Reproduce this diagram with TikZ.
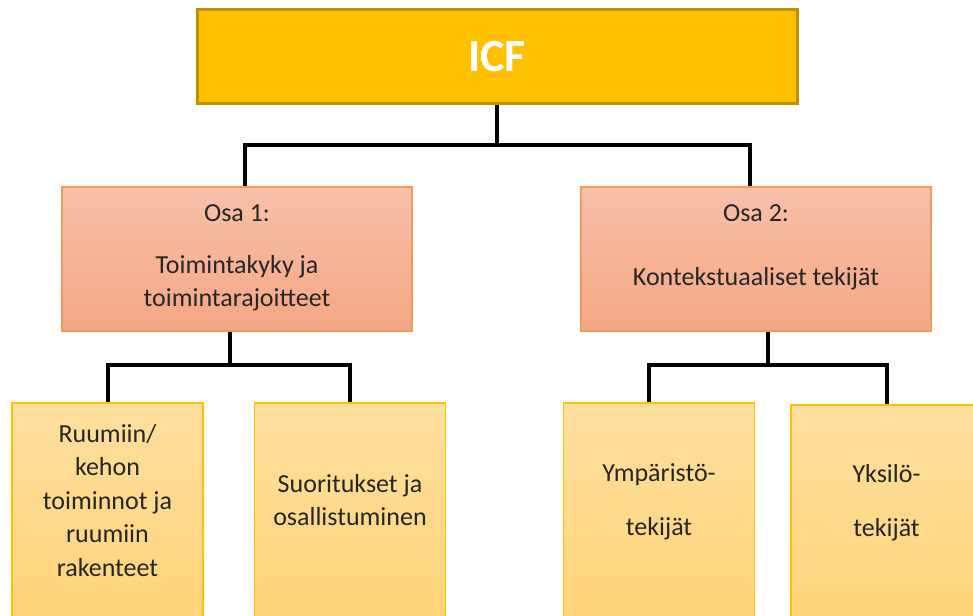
\documentclass[tikz,border=0pt]{standalone}
\usepackage{fontspec}
\setmainfont{Carlito}
\usepackage{tikz}
\newcommand{\padbelow}[1]{\rule[-#1]{0pt}{#1}}
\definecolor{icfgold}{HTML}{FFC000}
\definecolor{icfedge}{HTML}{BF9000}
\definecolor{parttop}{HTML}{F8C1A9}
\definecolor{partbottom}{HTML}{F4A684}
\definecolor{partedge}{HTML}{F29A5C}
\definecolor{leaftop}{HTML}{FFDF9F}
\definecolor{leafbottom}{HTML}{FFD479}
\definecolor{leafedge}{HTML}{FFC000}
\definecolor{textgray}{HTML}{262626}

\begin{document}
\begin{tikzpicture}[x=0.5pt,y=-0.5pt,
	head/.style={rectangle,draw=icfedge,line width=1.5pt,fill=icfgold,minimum width=300pt,minimum height=47pt,font=\fontsize{23}{27}\selectfont\bfseries,text=white},
	part/.style={rectangle,draw=partedge,line width=0.75pt,top color=parttop,bottom color=partbottom,minimum width=175pt,minimum height=72pt,align=center,font=\fontsize{13}{16.5}\selectfont,text=textgray},
	leaf/.style={rectangle,draw=leafedge,line width=0.75pt,top color=leaftop,bottom color=leafbottom,minimum width=95.5pt,minimum height=111pt,align=center,font=\fontsize{13}{16.75}\selectfont,text=textgray},
	link/.style={draw=black,line width=2pt}]
	\useasboundingbox (0,0) rectangle (973,615);

	\node[head] (icf) at (497,57) {ICF};
	\node[part] (osa1) at (237,259) {Osa 1:\\[9.5pt]Toimintakyky ja\\toimintarajoitteet\padbelow{3.5pt}};
	\node[part] (osa2) at (756,259) {Osa 2:\\[15.5pt]Kontekstuaaliset tekijät\padbelow{14pt}};
	\node[leaf] (ruumis) at (107.5,514) {Ruumiin/\\kehon\\toiminnot ja\\ruumiin\\rakenteet\padbelow{14pt}};
	\node[leaf] (suoritus) at (350,514) {Suoritukset ja\\osallistuminen\padbelow{14pt}};
	\node[leaf] (ymparisto) at (659,514) {Ympäristö-\\[10.25pt]tekijät\padbelow{14pt}};
	\node[leaf] (yksilo) at (886.5,516) {Yksilö-\\[10.25pt]tekijät\padbelow{16pt}};

	\draw[link] (icf.south) -- ++(0,39) coordinate (icfsplit);
	\draw[link] (icfsplit) -| ([xshift=4pt]osa1.north);
	\draw[link] (icfsplit) -| ([xshift=-3pt]osa2.north);

	\draw[link] ([xshift=-3.5pt]osa1.south) -- ++(0,33) coordinate (osa1split);
	\draw[link] (osa1split) -| (ruumis.north);
	\draw[link] (osa1split) -| (suoritus.north);

	\draw[link] ([xshift=6pt]osa2.south) -- ++(0,33) coordinate (osa2split);
	\draw[link] (osa2split) -| ([xshift=-5pt]ymparisto.north);
	\draw[link] (osa2split) -| (yksilo.north);
\end{tikzpicture}
\end{document}
